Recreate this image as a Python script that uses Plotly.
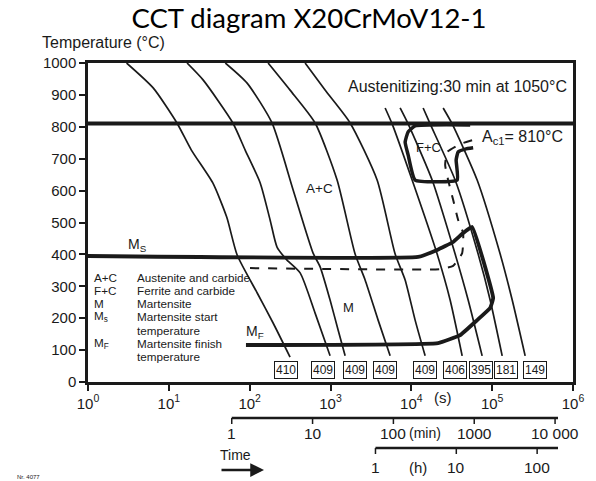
import numpy as np
import plotly.graph_objects as go

# cooling curves: time (s) and temperature (degC)
curve_times = [
  [3.0, 6.4, 12.6, 19, 35, 52, 70, 124, 195, 316],
  [16.8, 26.5, 62, 88, 135, 179, 218, 290, 421, 645, 988],
  [50, 93, 189, 345, 609, 744, 988, 1242, 1517],
  [169, 316, 645, 1207, 2015, 2680, 3882, 5466],
  [485, 857, 1749, 3774, 6305, 8380, 11140, 14820],
  [4742, 5786, 10230, 20860, 30200, 42550],
  [7265, 9125, 18090, 34830, 50470, 75200],
  [14000, 17100, 34830, 67100, 94400, 133000],
  [24760, 32000, 65200, 125600, 177000, 256000],
]
curve_temps = [
  [1000, 922, 812, 727, 624, 517, 398, 279, 185, 78],
  [1000, 947, 812, 727, 624, 508, 423, 382, 342, 216, 82],
  [1000, 937, 812, 602, 404, 361, 257, 163, 82],
  [1000, 915, 812, 633, 401, 320, 194, 82],
  [1000, 915, 812, 633, 401, 320, 194, 82],
  [859, 809, 633, 401, 257, 82],
  [859, 809, 633, 401, 257, 82],
  [859, 809, 633, 401, 257, 82],
  [859, 809, 633, 401, 257, 82],
]

# hardness (HV) at the end of each cooling curve
hardness = [410, 409, 409, 409, 409, 406, 395, 181, 149]
hardness_time = [282, 810, 2015, 4742, 14820, 34830, 73100, 149000, 340000]
hardness_temp = 38

# Ac1 temperature
ac1_temp = 810

# Ms / Mf boundary (thick)
ms_time = [1, 12140, 20860, 32900, 43750, 56500, 102900, 94400, 65200, 40180, 21460, 90]
ms_temp = [395, 392, 414, 439, 467, 486, 263, 232, 194, 147, 122, 116]

# dashed boundary
dash_time = [101, 22700, 32900, 42550, 43750, 37950, 32900, 28530, 26200, 27730, 40180, 58200]
dash_temp = [357, 354, 364, 404, 467, 508, 571, 633, 680, 721, 746, 759]

# ferrite + carbide region (thick)
fc_time = [53450, 11140, 9125, 8380, 9125, 11140, 36900, 35850, 37950, 46350, 58200]
fc_temp = [806, 803, 784, 752, 712, 633, 633, 696, 721, 730, 734]

# secondary time scales
min_ticks = [1, 10, 100, 1000, 10000]
min_labels = ['1', '10', '100', '1000', '10 000']
hour_ticks = [1, 10, 100]

legend_keys = ['A+C', 'F+C', 'M', 'M<sub>s</sub>', '', 'M<sub>F</sub>', '']
legend_texts = ['Austenite and carbide', 'Ferrite and carbide', 'Martensite',
                'Martensite start', 'temperature', 'Martensite finish', 'temperature']

FONT = 'Liberation Sans'
INK = '#1a1a1a'

# plot area in window pixels: x 88..573, y 63..382
def px(x):
  return (x - 88) / 485

def py(y):
  return (382 - y) / 319

fig = go.Figure()

for t, T in zip(curve_times, curve_temps):
  fig.add_trace(go.Scatter(x=t, y=T, mode='lines', line=dict(color=INK, width=1.7, shape='spline', smoothing=0.6),
                           hoverinfo='skip', showlegend=False))

fig.add_trace(go.Scatter(x=[1, 1e6], y=[ac1_temp, ac1_temp], mode='lines',
                         line=dict(color=INK, width=4), showlegend=False))
fig.add_trace(go.Scatter(x=ms_time, y=ms_temp, mode='lines',
                         line=dict(color=INK, width=3.8, shape='spline', smoothing=0.3), showlegend=False))
fig.add_trace(go.Scatter(x=dash_time, y=dash_temp, mode='lines',
                         line=dict(color=INK, width=2, dash='dash', shape='spline', smoothing=0.4), showlegend=False))
fig.add_trace(go.Scatter(x=fc_time, y=fc_temp, mode='lines',
                         line=dict(color=INK, width=3.5, shape='spline', smoothing=0.4), showlegend=False))


def label(x, y, text, size=12, xanchor='center', ref='paper', **kw):
  fig.add_annotation(x=x, y=y, xref=ref, yref=ref if ref == 'paper' else 'y', text=text, showarrow=False,
                     xanchor=xanchor, yanchor='middle', font=dict(family=FONT, size=size, color=INK), **kw)


# hardness boxes
for hv, t in zip(hardness, hardness_time):
  label(np.log10(t), hardness_temp, str(hv), size=12, ref='x', bordercolor=INK, borderwidth=1,
        borderpad=1, bgcolor='white')

# region labels
label(np.log10(740), 608, 'A+C', size=13.5, ref='x')
label(np.log10(16100), 734, 'F+C', size=13, ref='x')
label(np.log10(1650), 235, 'M', size=13, ref='x')
label(np.log10(71000), 765, 'A<sub>c1</sub>= 810°C', size=16, xanchor='left', ref='x')
label(px(569), py(87), 'Austenitizing:30 min at 1050°C', size=16, xanchor='right')
label(px(137), py(245), 'M<sub>S</sub>', size=14)
label(px(255), py(332), 'M<sub>F</sub>', size=14)

# legend block
legend_rows = [277, 290, 303, 316, 330, 343, 356]
for k, s, yy in zip(legend_keys, legend_texts, legend_rows):
  if k:
    label(px(92), py(yy), k, size=11.7, xanchor='left')
  label(px(135), py(yy), s, size=11.7, xanchor='left')


# minutes and hours scales below the main axis
def add_scale(ticks, labels, factor, y_line, y_text):
  x0 = np.log10(ticks[0] * factor) / 6
  fig.add_shape(type='line', xref='paper', yref='paper', x0=x0, x1=px(558), y0=py(y_line), y1=py(y_line),
                line=dict(color=INK, width=2.5))
  for v, lab in zip(ticks, labels):
    xp = np.log10(v * factor) / 6
    fig.add_shape(type='line', xref='paper', yref='paper', x0=xp, x1=xp, y0=py(y_line), y1=py(y_line + 6),
                  line=dict(color=INK, width=1.5))
    label(xp, py(y_text), lab, size=15.5)


add_scale(min_ticks, min_labels, 60, 418, 433)
add_scale(hour_ticks, [str(h) for h in hour_ticks], 3600, 448, 467)

label(px(443), py(397), '(s)', size=15)
label(px(425), py(433), '(min)', size=14)
label(px(418), py(467), '(h)', size=15)
label(px(235), py(455), 'Time', size=14)
fig.add_annotation(x=px(264), y=py(470), xref='paper', yref='paper', text='', showarrow=True,
                   ax=-44, ay=0, arrowhead=2, arrowsize=1.1, arrowwidth=2.5, arrowcolor=INK)
label(px(15), py(477), 'Nr. 4077', size=6, xanchor='left')
label(px(40), py(43), 'Temperature (°C)', size=16, xanchor='left')

fig.update_layout(
  width=596, height=481,
  margin=dict(l=88, r=23, t=63, b=99),
  paper_bgcolor='white', plot_bgcolor='white',
  title=dict(text='CCT diagram X20CrMoV12-1', x=309 / 596, y=1 - 18 / 481, xanchor='center', yanchor='middle',
             font=dict(family='Lato', size=27.5, color='black')),
  showlegend=False,
)
fig.update_xaxes(type='log', range=[0, 6], showgrid=False, zeroline=False,
                 tickvals=[10 ** k for k in range(7)], ticktext=['10<sup>%d</sup>' % k for k in range(7)],
                 ticks='outside', ticklen=6, tickwidth=2, tickcolor=INK,
                 showline=True, linewidth=2.5, linecolor=INK, mirror=True,
                 tickfont=dict(family=FONT, size=15, color=INK))
fig.update_yaxes(range=[0, 1000], dtick=100, showgrid=False, zeroline=False,
                 ticks='outside', ticklen=6, tickwidth=2, tickcolor=INK,
                 showline=True, linewidth=2.5, linecolor=INK, mirror=True,
                 tickfont=dict(family=FONT, size=15, color=INK))

# drop the default 8px page margin so the figure sits at the window's corner
fig.write_html("out.html", config={'displayModeBar': False},
               post_script="document.body.style.margin = '0px';")
